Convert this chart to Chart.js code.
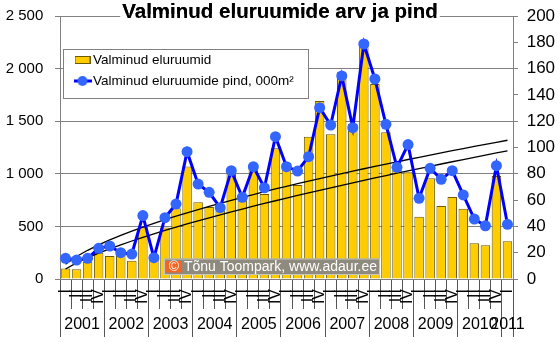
<!DOCTYPE html>
<html><head><meta charset="utf-8">
<script src="https://cdn.jsdelivr.net/npm/chart.js@4.4.1/dist/chart.umd.min.js"></script>
<style>html,body{margin:0;padding:0;background:#fff;}</style>
</head><body>
<canvas id="c" width="560" height="342"></canvas>
<script>
// ---- data ----
const titleText = 'Valminud eluruumide arv ja pind';
const barLabel = 'Valminud eluruumid';
const lineLabel = 'Valminud eluruumide pind, 000m²';
const years = ['2001','2002','2003','2004','2005','2006','2007','2008','2009','2010','2011'];
const quarterLabels = ['I','II','III','IV','I','II','III','IV','I','II','III','IV','I','II','III','IV',
  'I','II','III','IV','I','II','III','IV','I','II','III','IV','I','II','III','IV',
  'I','II','III','IV','I','II','III','IV','I'];
const dwellings = [100, 92, 165, 250, 218, 228, 174, 497, 180, 490, 672, 1070, 729, 685, 650, 1020,
  790, 1084, 808, 1242, 1106, 894, 1353, 1692, 1375, 1965, 1475, 2235, 1854, 1395, 1040, 1015,
  592, 957, 694, 780, 668, 340, 320, 979, 360];
const floorArea = [15.7, 14.4, 15.7, 23.3, 25.1, 20, 19, 48.2, 16.2, 46.6, 57, 96.8, 72.2, 65.9, 54.2, 82.4,
  62.1, 85.4, 69.4, 108.2, 85.4, 82.1, 93, 130.3, 117.1, 154.4, 115.1, 178.7, 152.1, 117.6, 84.9, 102.2,
  61.4, 84.2, 75.8, 82.4, 63.9, 45.6, 40.5, 86.2, 41.6];
const leftTickValues = [0, 500, 1000, 1500, 2000, 2500];
const leftTickLabels = ['0', '500', '1 000', '1 500', '2 000', '2 500'];
const copyrightText = 'Tõnu Toompark, www.adaur.ee';

// power trendline (least squares on ln-ln), as the spreadsheet trendline does
function powerTrend(vals){
  const n = vals.length; let sx=0, sy=0, sxx=0, sxy=0;
  vals.forEach((v,i)=>{ const x=Math.log(i+1), y=Math.log(v); sx+=x; sy+=y; sxx+=x*x; sxy+=x*y; });
  const b = (n*sxy - sx*sy)/(n*sxx - sx*sx);
  const a = Math.exp((sy - b*sx)/n);
  return vals.map((v,i)=> a*Math.pow(i+1, b));
}

// year axis ticks: boundaries + centres
const N = quarterLabels.length;
const yearCenters = [], yearBounds = [], yearAt = {};
years.forEach((y,k)=>{ const s=4*k, e=Math.min(4*k+3, N-1); const c=(s+e)/2; yearCenters.push(c); yearAt[c]=y; yearBounds.push(s-0.5); });
yearBounds.push(N-0.5);

// layout frame (pixels)
const FRAME = { left: 60, right: 513, top: 16, bottom: 279, qAxisBottom: 304 };

// legend swatches
const barSwatch = document.createElement('canvas'); barSwatch.width=16; barSwatch.height=8;
(function(){ const g=barSwatch.getContext('2d'); g.fillStyle='#FFCC00'; g.fillRect(0.5,0.5,15,7); g.strokeStyle='#6B5A00'; g.lineWidth=1; g.strokeRect(0.5,0.5,15,7); })();
const lineSwatch = document.createElement('canvas'); lineSwatch.width=18; lineSwatch.height=12;
(function(){ const g=lineSwatch.getContext('2d'); g.strokeStyle='#0000FF'; g.lineWidth=3; g.beginPath(); g.moveTo(0,6); g.lineTo(18,6); g.stroke(); g.fillStyle='#3366FF'; g.beginPath(); g.arc(9,6,5,0,Math.PI*2); g.fill(); })();

Chart.defaults.font.family = "'Liberation Sans', Arial, sans-serif";
Chart.defaults.color = '#000';

function noPad(axis){ axis.paddingTop = 0; axis.paddingBottom = 0; axis.paddingLeft = 0; axis.paddingRight = 0; }

const decor = {
  id: 'decor',
  beforeDraw(chart){
    const lg = chart.legend;
    lg.left = 71.25; lg.top = 45.75; lg.right = 330; lg.bottom = 160; lg.width = lg.right-lg.left; lg.height = lg.bottom-lg.top;
  },
  afterDatasetsDraw(chart){
    const ctx = chart.ctx; ctx.save();
    ctx.fillStyle = '#8E8B7E'; ctx.fillRect(164, 258.5, 216, 16.5);
    ctx.strokeStyle = '#C8C8C0'; ctx.lineWidth = 1; ctx.strokeRect(164.5, 259, 215, 15.5);
    ctx.fillStyle = '#F26522'; ctx.fillRect(166, 261, 15.5, 11.5);
    ctx.fillStyle = '#fff'; ctx.textBaseline = 'middle';
    ctx.font = "14px 'Liberation Sans', Arial, sans-serif";
    ctx.textAlign = 'center'; ctx.fillText('©', 173.8, 267);
    ctx.textAlign = 'left'; ctx.fillText(copyrightText, 184, 267);
    ctx.restore();
  },
  afterDraw(chart){
    const ctx = chart.ctx; ctx.save();
    ctx.fillStyle = '#fff'; ctx.fillRect(63, 49, 246, 50);
    ctx.strokeStyle = '#808080'; ctx.lineWidth = 1; ctx.strokeRect(63.5, 49.5, 245, 49);
    const tb = chart.titleBlock;
    ctx.font = "bold 20.5px 'Liberation Sans', Arial, sans-serif";
    const w = ctx.measureText(titleText).width;
    const cx = (tb.left + tb.right)/2;
    ctx.fillStyle = '#fff'; ctx.fillRect(cx - w/2 - 2, chart.chartArea.top - 2, w + 4, 4);
    ctx.restore();
    tb.draw(chart.chartArea);
    chart.legend.draw();
  }
};

new Chart(document.getElementById('c'), {
  type: 'bar',
  data: {
    labels: quarterLabels,
    datasets: [
      { label: barLabel, data: dwellings, yAxisID: 'y', xAxisID: 'x', backgroundColor: '#FFCC00', borderColor: '#6B5A00', borderWidth: 1, barPercentage: 0.86, categoryPercentage: 1, order: 3 },
      { type: 'line', label: lineLabel, data: floorArea, yAxisID: 'y1', xAxisID: 'x', borderColor: '#0000FF', borderWidth: 3, pointRadius: 5.5, pointBackgroundColor: '#3366FF', pointBorderColor: '#3366FF', pointBorderWidth: 0, tension: 0, order: 0 },
      { type: 'line', label: 'trend-pind', data: powerTrend(floorArea), yAxisID: 'y1', xAxisID: 'x', borderColor: '#000', borderWidth: 1.3, pointRadius: 0, tension: 0, order: 1 },
      { type: 'line', label: 'trend-arv', data: powerTrend(dwellings), yAxisID: 'y', xAxisID: 'x', borderColor: '#000', borderWidth: 1.3, pointRadius: 0, tension: 0, order: 1 }
    ]
  },
  options: {
    responsive: false, animation: false, devicePixelRatio: 1,
    layout: { padding: 0 },
    plugins: {
      tooltip: { enabled: false },
      title: { display: true, text: titleText, color: '#000', font: { size: 20.5, weight: 'bold', lineHeight: 1 }, padding: { top: 2, bottom: FRAME.top - 22.5 } },
      legend: {
        display: true, position: 'chartArea', align: 'start',
        labels: {
          usePointStyle: true, boxWidth: 7.5, padding: 7.5, color: '#000', font: { size: 13.5 },
          filter: (item) => item.datasetIndex < 2,
          sort: (a,b) => a.datasetIndex - b.datasetIndex,
          generateLabels(chart){
            const items = Chart.defaults.plugins.legend.labels.generateLabels(chart);
            items.forEach(it => { if (it.datasetIndex === 0) it.pointStyle = barSwatch; if (it.datasetIndex === 1) it.pointStyle = lineSwatch; });
            return items;
          }
        }
      }
    },
    scales: {
      x: {
        type: 'category', position: 'bottom', weight: 0, offset: true,
        afterFit: (a) => { a.height = FRAME.qAxisBottom - FRAME.bottom; noPad(a); },
        grid: { offset: true, drawOnChartArea: false, tickLength: 30, color: '#555' },
        border: { color: '#808080' },
        ticks: { autoSkip: false, maxRotation: 90, minRotation: 90, padding: -20, font: { size: 16 }, color: '#000' }
      },
      xYear: {
        type: 'linear', position: 'bottom', weight: 1, min: -0.5, max: N - 0.5, offset: false,
        afterFit: (a) => { a.height = 342 - FRAME.qAxisBottom; noPad(a); },
        afterBuildTicks: (axis) => { axis.ticks = yearBounds.concat(yearCenters).sort((a,b)=>a-b).map(v => ({ value: v })); },
        grid: { offset: false, drawOnChartArea: false, tickLength: 33, color: (c) => (c.tick && yearBounds.includes(c.tick.value)) ? '#555' : 'rgba(0,0,0,0)' },
        border: { display: false },
        ticks: { autoSkip: false, maxRotation: 0, minRotation: 0, padding: -21.6, font: { size: 16 }, color: '#000',
          callback: (v) => (yearAt[v] !== undefined ? yearAt[v] : '') }
      },
      y: {
        position: 'left', min: 0, max: 2500,
        afterFit: (a) => { a.width = FRAME.left; noPad(a); },
        ticks: { stepSize: 500, padding: 11.7, font: { size: 15 }, color: '#000', callback: (v) => leftTickLabels[leftTickValues.indexOf(v)] },
        grid: { color: '#808080', tickLength: 5 },
        border: { color: '#808080' }
      },
      y1: {
        position: 'right', min: 0, max: 200,
        afterFit: (a) => { a.width = 560 - FRAME.right; noPad(a); },
        ticks: { stepSize: 20, padding: 8.7, font: { size: 17 }, color: '#000' },
        grid: { drawOnChartArea: false, tickLength: 5, color: '#808080' },
        border: { color: '#808080' }
      }
    }
  },
  plugins: [decor]
});
</script>
</body></html>
